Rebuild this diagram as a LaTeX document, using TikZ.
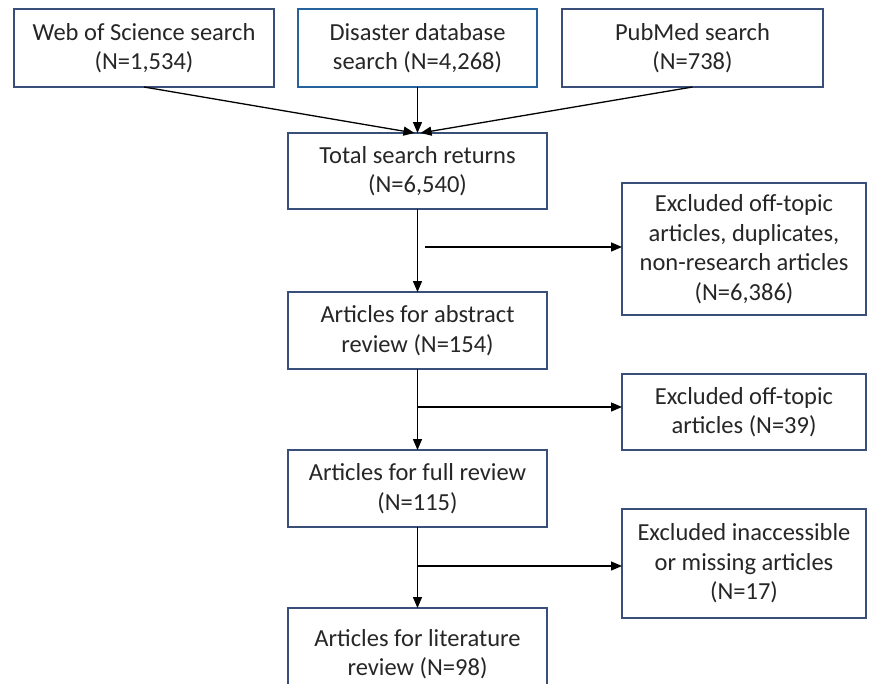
\documentclass[tikz,border=0pt]{standalone}
\usepackage{fontspec}
\setmainfont{Carlito}
\usetikzlibrary{arrows.meta}
\definecolor{boxline}{RGB}{58,78,122}
\definecolor{boxblue}{RGB}{38,98,158}
\definecolor{txt}{RGB}{38,38,38}
\tikzset{
  box/.style={draw=boxline, line width=2.6pt, fill=white, align=center, text=txt,
    font=\fontsize{24.5}{29.5}\selectfont, inner sep=0pt, outer sep=0pt},
  arr/.style={line width=1.3pt, draw=black, -{Triangle[length=11pt,width=9pt]}}
}
\begin{document}
\begin{tikzpicture}[x=1pt,y=-1pt]
\useasboundingbox (0,0) rectangle (870,683);
\clip (0,0) rectangle (870,683);
\fill[white] (0,0) rectangle (870,683);
% top row
\node[box, minimum width=260pt, minimum height=78pt] (b1) at (144,48) {Web of Science search\\(N=1,534)};
\node[box, draw=boxblue, minimum width=239pt, minimum height=78pt] (b2) at (417.5,48) {Disaster database\\search (N=4,268)};
\node[box, minimum width=261pt, minimum height=78pt] (b3) at (692.5,48) {PubMed search\\(N=738)};
% centre column
\node[box, minimum width=259pt, minimum height=76pt] (total) at (417.5,171) {Total search returns\\(N=6,540)};
\node[box, minimum width=259pt, minimum height=77pt] (abs) at (417.5,330.5) {Articles for abstract\\review (N=154)};
\node[box, minimum width=259pt, minimum height=77pt] (full) at (417.5,488.5) {Articles for full review\\(N=115)};
\node[box, minimum width=259pt, minimum height=80pt, text depth=0pt] (lit) at (417.5,648) {\raisebox{6pt}{\parbox{259pt}{\centering Articles for literature\\review (N=98)}}};
% right column
\node[box, minimum width=244pt, minimum height=132pt] (ex1) at (744,249) {Excluded off-topic\\articles, duplicates,\\non-research articles\\(N=6,386)};
\node[box, minimum width=244pt, minimum height=76pt] (ex2) at (744,412) {Excluded off-topic\\articles (N=39)};
\node[box, minimum width=244pt, minimum height=109pt] (ex3) at (744,563.5) {Excluded inaccessible\\or missing articles\\(N=17)};
% junctions
\coordinate (j1) at (425,247);
\coordinate (j2) at (417.5,407);
\coordinate (j3) at (417.5,566);
% connectors
\draw[arr] (b1.south) -- ([xshift=-3pt]total.north);
\draw[arr] (b2.south) -- (total.north);
\draw[arr] (b3.south) -- ([xshift=3pt]total.north);
\draw[arr] (total.south) -- (abs.north);
\draw[arr] (abs.south) -- (full.north);
\draw[arr] (full.south) -- (lit.north);
\draw[arr] (j1) -- (j1 -| ex1.west);
\draw[arr] (j2) -- (j2 -| ex2.west);
\draw[arr] (j3) -- (j3 -| ex3.west);
\end{tikzpicture}
\end{document}
